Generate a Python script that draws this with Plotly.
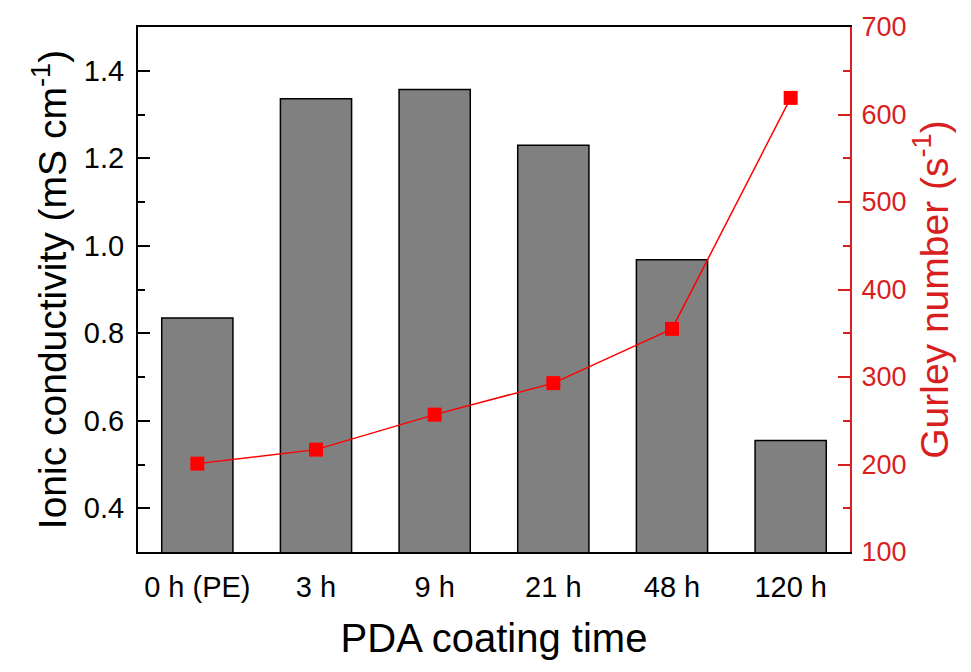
import plotly.graph_objects as go

categories = ["0 h (PE)", "3 h", "9 h", "21 h", "48 h", "120 h"]
conductivity = [0.835, 1.336, 1.357, 1.230, 0.968, 0.555]
gurley = [201, 217, 257, 293, 355, 619]

RED_AXIS = "#d81e1e"
FONT = "Liberation Sans, Arial"

x = list(range(len(categories)))

fig = go.Figure()
fig.add_trace(go.Bar(
    x=x, y=conductivity, width=0.6,
    marker=dict(color="#808080", line=dict(color="black", width=1.5)),
    yaxis="y", showlegend=False,
))
fig.add_trace(go.Scatter(
    x=x, y=gurley, mode="lines+markers",
    line=dict(color="#ff0000", width=1.5),
    marker=dict(symbol="square", size=14, color="#ff0000"),
    yaxis="y2", showlegend=False,
))

fig.update_layout(
    width=971, height=672,
    margin=dict(l=138, r=121, t=24, b=120),
    plot_bgcolor="white", paper_bgcolor="white",
    xaxis=dict(
        range=[-0.5, 5.5], tickmode="array", tickvals=x, ticktext=categories,
        showline=True, linecolor="black", linewidth=2, mirror=True,
        ticks="", showgrid=False, zeroline=False,
        ticklabelstandoff=8,
        tickfont=dict(family=FONT, size=29, color="black"),
        title=dict(text="PDA coating time", font=dict(family=FONT, size=40, color="black"), standoff=22),
    ),
    yaxis=dict(
        range=[0.3, 1.5], tickvals=[0.4, 0.6, 0.8, 1.0, 1.2, 1.4],
        ticktext=["0.4", "0.6", "0.8", "1.0", "1.2", "1.4"],
        showline=True, linecolor="black", linewidth=2, mirror=False,
        ticks="inside", ticklen=12, tickwidth=2, tickcolor="black",
        minor=dict(ticks="inside", ticklen=7, tickwidth=2, tickcolor="black", dtick=0.1, tick0=0.3),
        showgrid=False, zeroline=False,
        ticklabelstandoff=6,
        tickfont=dict(family=FONT, size=29, color="black"),
        title=dict(text="Ionic conductivity (mS cm<sup>-1</sup>)", font=dict(family=FONT, size=39, color="black"), standoff=5),
    ),
    yaxis2=dict(
        range=[100, 700], tickvals=[100, 200, 300, 400, 500, 600, 700],
        overlaying="y", side="right",
        showline=True, linecolor=RED_AXIS, linewidth=2,
        ticks="inside", ticklen=12, tickwidth=2, tickcolor=RED_AXIS,
        minor=dict(ticks="inside", ticklen=7, tickwidth=2, tickcolor=RED_AXIS, dtick=50, tick0=100),
        showgrid=False, zeroline=False,
        ticklabelstandoff=4,
        tickfont=dict(family=FONT, size=27, color=RED_AXIS),
        title=dict(text="Gurley number (s<sup>-1</sup>)", font=dict(family=FONT, size=39, color=RED_AXIS), standoff=12),
    ),
    bargap=0.4,
)

fig.write_html("out.html")
